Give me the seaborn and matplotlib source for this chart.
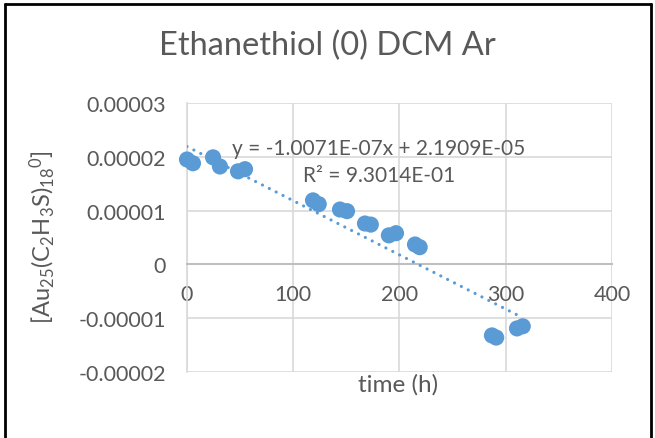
import matplotlib
matplotlib.use("Agg")
import matplotlib.pyplot as plt
import seaborn as sns
import numpy as np
import pandas as pd
from matplotlib.lines import Line2D

# ---- data ----
time_h = [0, 5.6, 24.5, 31, 48, 54.6, 118.6, 124, 144, 150.6,
          167.5, 173, 190, 196.7, 214.6, 219, 287, 291, 310.6, 316]
conc = [1.95e-5, 1.88e-5, 1.99e-5, 1.82e-5, 1.73e-5, 1.77e-5, 1.19e-5, 1.12e-5, 1.02e-5, 0.99e-5,
        0.76e-5, 0.74e-5, 0.54e-5, 0.58e-5, 0.37e-5, 0.32e-5, -1.32e-5, -1.36e-5, -1.19e-5, -1.15e-5]
slope = -1.0071e-07
intercept = 2.1909e-05
x_ticks = [0, 100, 200, 300, 400]
y_ticks = [-0.00002, -0.00001, 0, 0.00001, 0.00002, 0.00003]
y_tick_labels = ["-0.00002", "-0.00001", "0", "0.00001", "0.00002", "0.00003"]
title = "Ethanethiol (0) DCM Ar"
eq_text = "y = -1.0071E-07x + 2.1909E-05"
r2_text = "R\u00b2 = 9.3014E-01"

df = pd.DataFrame({"time": time_h, "conc": conc})

sns.set_theme(style="white")
plt.rcParams["font.family"] = ["Lato", "DejaVu Sans"]
plt.rcParams["mathtext.default"] = "regular"

txt = "#595959"
blue = "#5b9bd5"
grid = "#d9d9d9"

fig = plt.figure(figsize=(6.55, 4.39), dpi=100)
ax = fig.add_axes([187/655, 1-373/439, (612-187)/655, (373-104)/439])

sns.scatterplot(data=df, x="time", y="conc", ax=ax, color=blue, s=135,
                edgecolor="none", zorder=4, clip_on=False)

xl = np.array([0, max(time_h)])
ax.plot(xl, slope*xl + intercept, linestyle=(0, (0.01, 2.4)), color=blue,
        linewidth=2.3, dash_capstyle="round", zorder=3)

ax.set_xlim(0, 400)
ax.set_ylim(-0.00002, 0.00003)
ax.set_xticks(x_ticks)
ax.set_yticks(y_ticks)
ax.set_yticklabels(y_tick_labels)
ax.grid(True, color=grid, linewidth=1.2, zorder=0)
ax.set_axisbelow(True)
for sp in ["top", "right"]:
    ax.spines[sp].set_visible(False)
ax.spines["bottom"].set_position(("data", 0))
ax.spines["bottom"].set_color("#bfbfbf")
ax.spines["bottom"].set_linewidth(1.5)
ax.spines["left"].set_color(grid)
ax.spines["left"].set_linewidth(1.2)
ax.tick_params(axis="x", length=0, pad=14, labelsize=15.5, labelcolor=txt)
ax.tick_params(axis="y", length=0, pad=15, labelsize=15.5, labelcolor=txt)

ax.set_xlabel("")
ax.set_ylabel("")
fig.text(398/655, 1-385/439, "time (h)", ha="center", va="center", fontsize=17.5, color=txt)
fig.text(42/655, 1-237/439, "[Au$_{25}$(C$_2$H$_3$S)$_{18}$$^0$]", ha="center", va="center",
         rotation=90, fontsize=17, color=txt)
fig.text(327/655, 1-46/439, title, ha="center", va="center", fontsize=23.5, color=txt)
fig.text(379/655, 1-149/439, eq_text, ha="center", va="center", fontsize=15, color=txt)
fig.text(379/655, 1-176/439, r2_text, ha="center", va="center", fontsize=15, color=txt)

# outer chart frame
fig.add_artist(Line2D([5/655, 5/655], [0, 1-5/439], color="black", lw=2, transform=fig.transFigure))
fig.add_artist(Line2D([5/655, 651/655], [1-5/439, 1-5/439], color="black", lw=2, transform=fig.transFigure))
fig.add_artist(Line2D([651/655, 651/655], [0, 1-5/439], color="black", lw=2, transform=fig.transFigure))

fig.savefig("out.png", dpi=100, facecolor="white")
